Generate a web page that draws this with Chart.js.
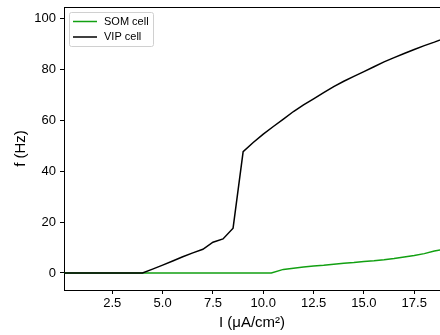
<!DOCTYPE html>
<html>
<head>
<meta charset="utf-8">
<script src="https://cdn.jsdelivr.net/npm/chart.js@4/dist/chart.umd.min.js"></script>
<style>
  html, body { margin: 0; padding: 0; background: #fff; overflow: hidden; }
  canvas { display: block; }
</style>
</head>
<body>
<canvas id="fiChart" width="440" height="335"></canvas>
<script>
// f-I curves, injected current (µA/cm²) against firing rate (Hz)
const vipCurrent = [0.1, 4.0, 4.5, 5.0, 5.5, 6.0, 6.5, 7.0, 7.5, 8.0, 8.5, 9.0, 9.5, 10.0, 10.5, 11.0, 11.5, 12.0, 12.5, 13.0, 13.5, 14.0, 14.5, 15.0, 15.5, 16.0, 16.5, 17.0, 17.5, 18.0, 18.5, 19.0];
const vipRate = [0, 0, 1.5, 3.1, 4.7, 6.4, 7.9, 9.3, 12.1, 13.4, 17.6, 47.7, 51.3, 54.6, 57.6, 60.5, 63.5, 66.1, 68.5, 70.9, 73.3, 75.4, 77.3, 79.2, 81.1, 83.0, 84.7, 86.3, 87.9, 89.4, 90.8, 92.3];
const somCurrent = [0.1, 10.4, 11.0, 11.5, 12.0, 12.5, 13.0, 13.5, 14.0, 14.5, 15.0, 15.5, 16.0, 16.5, 17.0, 17.5, 18.0, 18.5, 19.0];
const somRate = [0, 0, 1.4, 1.9, 2.3, 2.7, 3.0, 3.4, 3.8, 4.1, 4.5, 4.8, 5.2, 5.7, 6.3, 6.9, 7.6, 8.6, 9.4];

const xTicks = [2.5, 5.0, 7.5, 10.0, 12.5, 15.0, 17.5];
const yTicks = [0, 20, 40, 60, 80, 100];

const seriesNames = ['SOM cell', 'VIP cell'];
const seriesColors = ['#12a012', '#000000'];

const font = '"Liberation Sans", Arial, Helvetica, sans-serif';

function toPoints(xs, ys) {
    return xs.map((x, i) => ({ x: x, y: ys[i] }));
}

// top spine + framed legend, matplotlib style
const extras = {
    id: 'extras',
    afterDraw(chart) {
        const ctx = chart.ctx;
        const area = chart.chartArea;
        ctx.save();
        ctx.strokeStyle = '#000';
        ctx.lineWidth = 1;
        ctx.beginPath();
        ctx.moveTo(area.left, area.top + 0.5);
        ctx.lineTo(area.right, area.top + 0.5);
        ctx.stroke();

        // legend box
        const bx = area.left + 5.5, by = area.top + 5.5, bw = 84, bh = 34;
        ctx.fillStyle = 'rgba(255,255,255,0.8)';
        ctx.strokeStyle = '#d0d0d0';
        ctx.beginPath();
        ctx.roundRect(bx, by, bw, bh, 2);
        ctx.fill();
        ctx.stroke();

        ctx.font = '11px ' + font;
        ctx.textBaseline = 'middle';
        ctx.textAlign = 'left';
        seriesNames.forEach((name, i) => {
            const ly = by + 9 + i * 15.5;
            ctx.strokeStyle = seriesColors[i];
            ctx.lineWidth = 1.5;
            ctx.beginPath();
            ctx.moveTo(bx + 3.5, ly);
            ctx.lineTo(bx + 27.5, ly);
            ctx.stroke();
            ctx.fillStyle = '#000';
            ctx.fillText(name, bx + 34.5, ly);
        });
        ctx.restore();
    }
};

new Chart(document.getElementById('fiChart').getContext('2d'), {
    type: 'line',
    data: {
        datasets: [{
            label: seriesNames[0],
            data: toPoints(somCurrent, somRate),
            borderColor: seriesColors[0],
            borderWidth: 1.5,
            pointRadius: 0,
            tension: 0,
            order: 1
        }, {
            label: seriesNames[1],
            data: toPoints(vipCurrent, vipRate),
            borderColor: seriesColors[1],
            borderWidth: 1.5,
            pointRadius: 0,
            tension: 0,
            order: 0
        }]
    },
    options: {
        responsive: false,
        animation: false,
        devicePixelRatio: 1,
        layout: { padding: { top: 7, right: 0, bottom: 0, left: 0 } },
        plugins: {
            legend: { display: false },
            tooltip: { enabled: false }
        },
        scales: {
            x: {
                type: 'linear',
                min: 0.1,
                max: 18.78,
                afterBuildTicks: (scale) => { scale.ticks = xTicks.map(v => ({ value: v })); },
                afterFit: (scale) => {
                    scale.height = 45;
                    scale.paddingLeft = 0;
                    scale.paddingRight = 0;
                },
                grid: { drawOnChartArea: false, tickLength: 4, tickColor: '#000' },
                border: { display: true, color: '#000', width: 1 },
                ticks: {
                    color: '#000',
                    padding: 2,
                    maxRotation: 0,
                    font: { family: font, size: 13 },
                    callback: (v) => v.toFixed(1)
                },
                title: {
                    display: true,
                    text: 'I (μA/cm²)',
                    color: '#000',
                    font: { family: font, size: 15 },
                    padding: { top: 0, bottom: 3 }
                }
            },
            y: {
                min: -6.7,
                max: 104.6,
                afterBuildTicks: (scale) => { scale.ticks = yTicks.map(v => ({ value: v })); },
                afterFit: (scale) => {
                    scale.width = 64;
                    scale.paddingTop = 0;
                    scale.paddingBottom = 0;
                },
                grid: { drawOnChartArea: false, tickLength: 4, tickColor: '#000' },
                border: { display: true, color: '#000', width: 1 },
                ticks: {
                    color: '#000',
                    padding: 4,
                    font: { family: font, size: 13 }
                },
                title: {
                    display: true,
                    text: 'f (Hz)',
                    color: '#000',
                    font: { family: font, size: 15 },
                    padding: { top: 12, bottom: 0 }
                }
            }
        }
    },
    plugins: [extras]
});
</script>
</body>
</html>
